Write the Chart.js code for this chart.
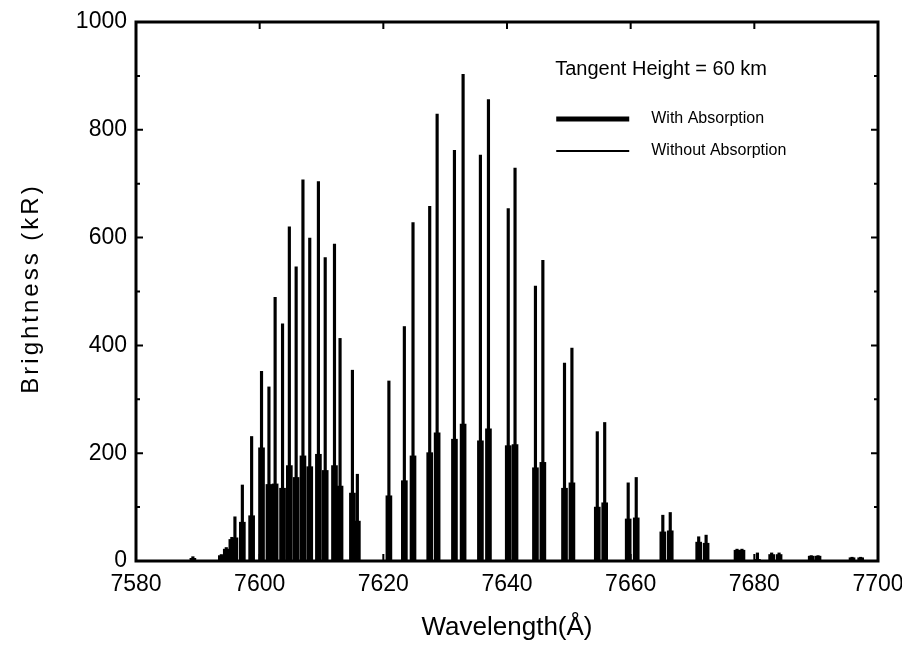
<!DOCTYPE html>
<html>
<head>
<meta charset="utf-8">
<script src="https://cdn.jsdelivr.net/npm/chart.js@4.4.0/dist/chart.umd.min.js"></script>
<style>
  html, body { margin: 0; padding: 0; background: #fff; }
</style>
</head>
<body>
<canvas id="spectrum" width="902" height="645"></canvas>
<script>
// line positions (Angstrom) and brightness (kR)
const wavelengths = [7589.2, 7593.8, 7594.6, 7595.5, 7596.0, 7597.2, 7598.7, 7600.3, 7601.5, 7602.5,
                     7603.7, 7604.8, 7605.9, 7607.0, 7608.1, 7609.5, 7610.6, 7612.1, 7613.0, 7615.0,
                     7615.8, 7620.9, 7623.4, 7624.8, 7627.5, 7628.7, 7631.5, 7632.9, 7635.7, 7637.0,
                     7640.2, 7641.3, 7644.6, 7645.8, 7649.3, 7650.5, 7654.6, 7655.8, 7659.6, 7660.9,
                     7665.2, 7666.4, 7671.0, 7672.2, 7677.2, 7678.0, 7680.5, 7682.8, 7684.0, 7689.2,
                     7690.3, 7695.8, 7697.2];
const withoutAbs = [8, 12, 25, 44, 82, 141, 231, 352, 323, 489,
                    440, 620, 546, 707, 599, 704, 563, 588, 413, 354,
                    161, 334, 435, 628, 658, 829, 762, 903, 753, 856,
                    654, 729, 510, 558, 367, 395, 240, 257, 145, 155,
                    85, 90, 45, 48, 22, 22, 15, 15, 15, 10,
                    10, 7, 7];
const withAbs = [5, 10, 22, 40, 43, 72, 84, 210, 142, 143,
                 135, 177, 155, 195, 175, 198, 168, 177, 139, 126,
                 74, 121, 149, 195, 201, 238, 226, 254, 223, 245,
                 214, 216, 173, 183, 135, 145, 100, 108, 78, 80,
                 54, 56, 35, 33, 20, 20, 3, 12, 12, 9,
                 9, 6, 6];
const xTicks = [7580, 7600, 7620, 7640, 7660, 7680, 7700];
const yTicks = [0, 200, 400, 600, 800, 1000];
const noteText = 'Tangent Height = 60 km';
const yTitle = 'Brightness (kR)';

const FONT = '"Liberation Sans", Arial, Helvetica, sans-serif';

function toPoints(vals){
    return wavelengths.map((w, i) => ({x: w, y: vals[i]}));
}

// frame, inward ticks, y title, legend and note
const frameAndLegend = {
    id: 'frameAndLegend',
    afterDraw(chart){
        const {ctx, chartArea: a, scales} = chart;
        const x = scales.x, y = scales.y;
        ctx.save();
        ctx.strokeStyle = '#000';
        ctx.lineWidth = 2;
        ctx.beginPath();
        xTicks.forEach(v => {
            const px = x.getPixelForValue(v);
            ctx.moveTo(px, a.bottom); ctx.lineTo(px, a.bottom - 7);
            ctx.moveTo(px, a.top); ctx.lineTo(px, a.top + 7);
        });
        for(let v = 0; v <= 1000; v += 100){
            const py = y.getPixelForValue(v);
            const len = v % 200 === 0 ? 7 : 4;
            ctx.moveTo(a.left, py); ctx.lineTo(a.left + len, py);
            ctx.moveTo(a.right, py); ctx.lineTo(a.right - len, py);
        }
        ctx.stroke();

        ctx.lineWidth = 3;
        ctx.strokeRect(a.left, a.top, a.right - a.left, a.bottom - a.top);

        ctx.fillStyle = '#000';
        ctx.textBaseline = 'middle';

        // y title, spaced out like the original
        ctx.save();
        ctx.translate(31, (a.top + a.bottom) / 2 - 3);
        ctx.rotate(-Math.PI / 2);
        ctx.textAlign = 'center';
        ctx.font = '24px ' + FONT;
        ctx.letterSpacing = '3px';
        ctx.fillText(yTitle, 0, 0);
        ctx.restore();

        // note + legend
        const lx = a.left + (a.right - a.left) * 0.565;
        ctx.font = '20px ' + FONT;
        ctx.fillText(noteText, lx, a.top + 47);

        const ds = chart.data.datasets;
        const rows = [{y: a.top + 97, w: 5, label: ds[0].label},
                      {y: a.top + 129, w: 2, label: ds[1].label}];
        ctx.font = '16px ' + FONT;
        rows.forEach(r => {
            ctx.lineWidth = r.w;
            ctx.beginPath();
            ctx.moveTo(lx + 1, r.y);
            ctx.lineTo(lx + 74, r.y);
            ctx.stroke();
            ctx.fillText(r.label, lx + 96, r.y);
        });
        ctx.restore();
    }
};

new Chart(document.getElementById('spectrum'), {
    type: 'bar',
    data: {
        datasets: [{
            label: 'With Absorption',
            data: toPoints(withAbs),
            backgroundColor: '#000',
            barThickness: 6,
            grouped: false,
            order: 2
        }, {
            label: 'Without Absorption',
            data: toPoints(withoutAbs),
            backgroundColor: '#000',
            barThickness: 2.5,
            grouped: false,
            order: 1
        }]
    },
    options: {
        responsive: false,
        animation: false,
        layout: { padding: { left: 8, right: 24, top: 22, bottom: 2 } },
        plugins: {
            legend: { display: false },
            tooltip: { enabled: false }
        },
        scales: {
            x: {
                type: 'linear',
                min: 7580, max: 7700,
                offset: false,
                afterBuildTicks: s => { s.ticks = xTicks.map(v => ({value: v})); },
                afterFit: s => { s.height = 82; s.paddingLeft = 0; s.paddingRight = 0; },
                grid: { display: false, drawTicks: false },
                border: { display: false },
                ticks: {
                    color: '#000', padding: 10, font: { family: FONT, size: 23 },
                    callback: v => String(v)
                },
                title: {
                    display: true, text: 'Wavelength(Å)', color: '#000',
                    font: { family: FONT, size: 26 }, padding: { top: 0, bottom: 0 }
                }
            },
            y: {
                min: 0, max: 1000,
                afterBuildTicks: s => { s.ticks = yTicks.map(v => ({value: v})); },
                afterFit: s => { s.width = 128; s.paddingTop = 0; s.paddingBottom = 0; },
                grid: { display: false, drawTicks: false },
                border: { display: false },
                ticks: {
                    color: '#000', padding: 9, font: { family: FONT, size: 23 },
                    callback: v => String(v)
                }
            }
        }
    },
    plugins: [frameAndLegend]
});
</script>
</body>
</html>
